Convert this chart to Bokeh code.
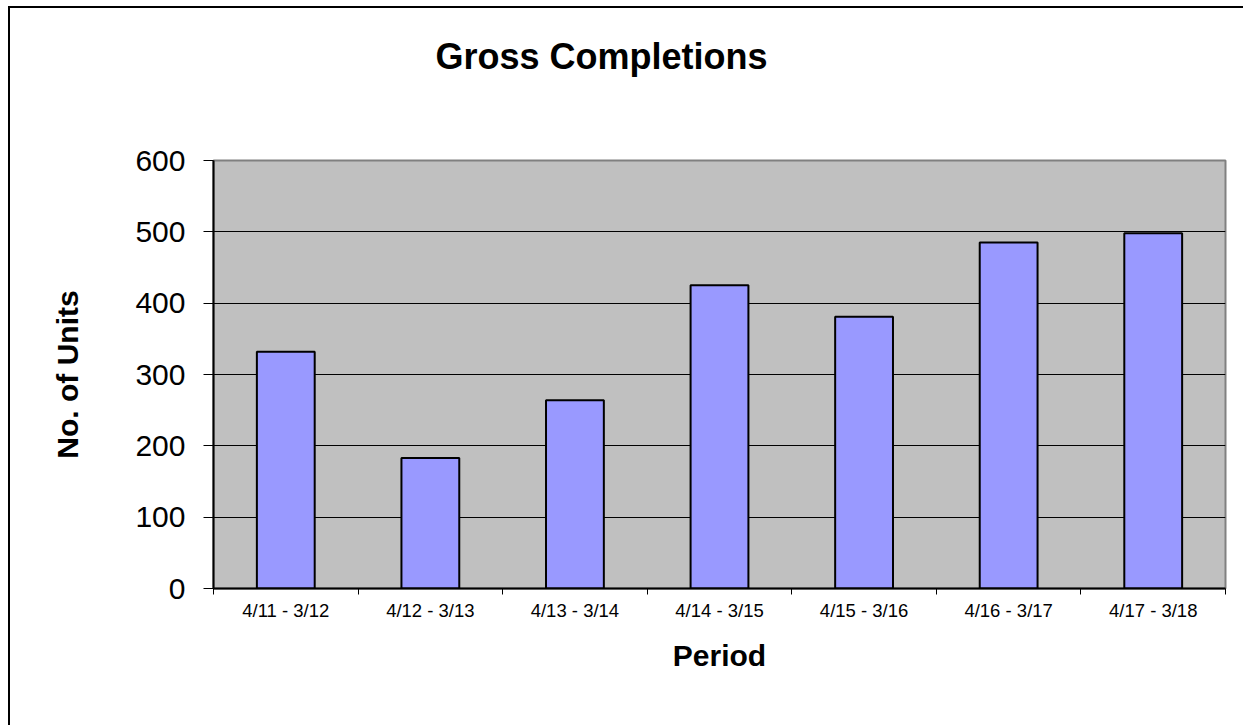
from bokeh.plotting import figure
from bokeh.models import Range1d, FixedTicker, ColumnDataSource
from bokeh.embed import file_html
from bokeh.resources import INLINE

# ---- data ----
title_text = "Gross Completions"
periods = ["4/11 - 3/12", "4/12 - 3/13", "4/13 - 3/14", "4/14 - 3/15",
           "4/15 - 3/16", "4/16 - 3/17", "4/17 - 3/18"]
units = [332, 183, 264, 425, 381, 485, 498]
y_ticks = [0, 100, 200, 300, 400, 500, 600]

n = len(periods)
centers = [i + 0.5 for i in range(n)]
bounds = list(range(n + 1))
src = ColumnDataSource(dict(x=centers, top=units, period=periods))

FONT = "Liberation Sans"

p = figure(frame_width=1012, frame_height=428,
           min_border_left=203, min_border_right=18,
           min_border_top=152, min_border_bottom=137,
           x_range=Range1d(0, n), y_range=Range1d(0, 600),
           output_backend="svg", toolbar_location=None,
           title=title_text)

p.styles = {"border-left": "2px solid #000", "border-top": "2px solid #000",
            "margin-left": "8px", "margin-top": "6px"}

p.background_fill_color = "#C0C0C0"
p.border_fill_color = "white"
p.outline_line_color = "#808080"
p.outline_line_width = 2

p.title.text_font = FONT
p.title.text_font_size = "36px"
p.title.text_font_style = "bold"
p.title.text_color = "black"
p.title.align = "left"
p.title.offset = 222
p.title.standoff = 0
try:
    p.title.padding = dict(left=0, right=0, top=0, bottom=84)
except Exception:
    pass

p.vbar(x="x", top="top", bottom=0, width=0.4, source=src,
       fill_color="#9999FF", line_color="black", line_width=2)

# grid
p.xgrid.visible = False
p.ygrid.ticker = FixedTicker(ticks=y_ticks)
p.ygrid.grid_line_color = "black"
p.ygrid.grid_line_width = 1

# y axis
ya = p.yaxis[0]
ya.ticker = FixedTicker(ticks=y_ticks)
ya.major_label_text_font = FONT
ya.major_label_text_font_size = "30px"
ya.major_label_text_color = "black"
ya.major_tick_out = 10
ya.major_tick_in = 0
ya.minor_tick_out = 0
ya.minor_tick_in = 0
ya.major_tick_line_color = "black"
ya.major_tick_line_width = 1
ya.major_label_standoff = 18
ya.axis_line_color = "black"
ya.axis_line_width = 2
ya.axis_label = "No. of Units"
ya.axis_label_text_font = FONT
ya.axis_label_text_font_size = "30px"
ya.axis_label_text_font_style = "bold"
ya.axis_label_text_color = "black"
ya.axis_label_standoff = 48

# x axis
xa = p.xaxis[0]
xa.ticker = FixedTicker(ticks=centers, minor_ticks=bounds)
xa.major_label_overrides = {c: lab for c, lab in zip(centers, periods)}
xa.major_label_text_font = FONT
xa.major_label_text_font_size = "18.5px"
xa.major_label_text_color = "black"
xa.major_tick_out = 0
xa.major_tick_in = 0
xa.minor_tick_out = 6
xa.minor_tick_in = 0
xa.minor_tick_line_color = "black"
xa.minor_tick_line_width = 1
xa.major_label_standoff = 5
xa.axis_line_color = "black"
xa.axis_line_width = 2
xa.axis_label = "Period"
xa.axis_label_text_font = FONT
xa.axis_label_text_font_size = "30px"
xa.axis_label_text_font_style = "bold"
xa.axis_label_text_color = "black"
xa.axis_label_standoff = 15

open("out.html", "w").write(file_html(p, INLINE))
